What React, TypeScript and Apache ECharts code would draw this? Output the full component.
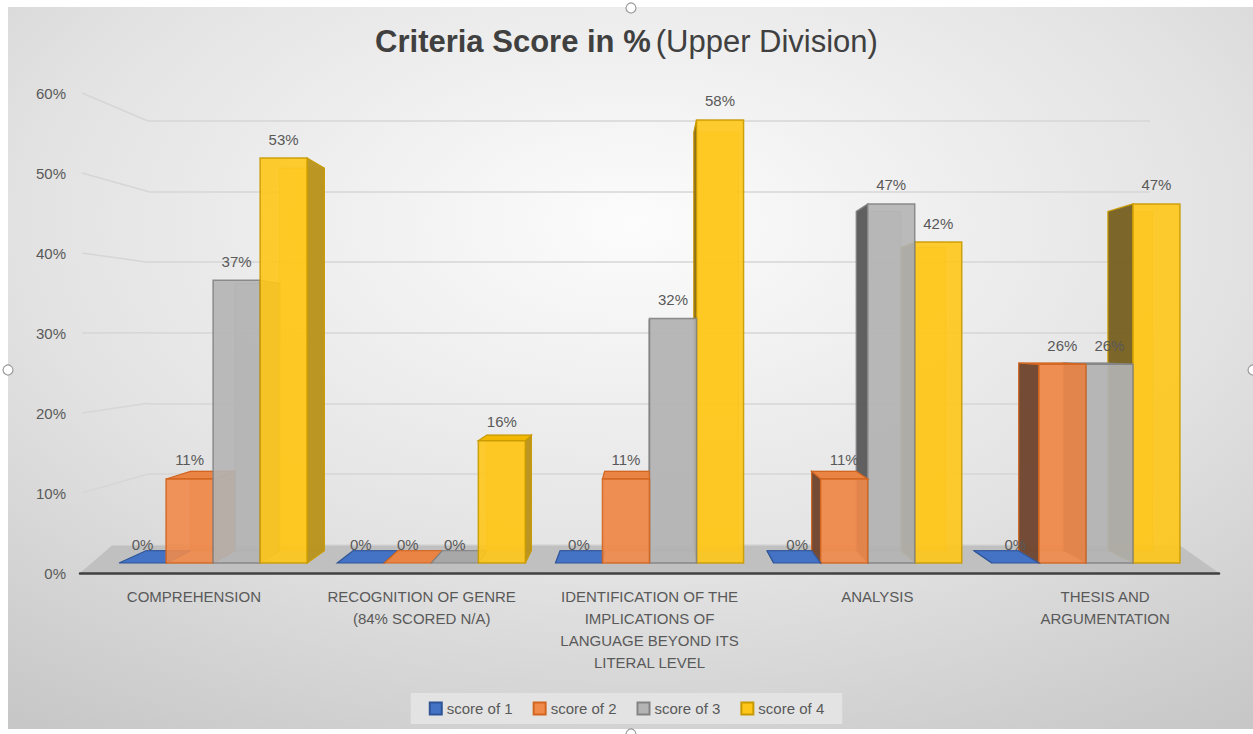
import React, { useEffect, useRef } from 'react';
import * as echarts from 'echarts';

const categories = [
  'COMPREHENSION',
  'RECOGNITION OF GENRE\n(84% SCORED N/A)',
  'IDENTIFICATION OF THE\nIMPLICATIONS OF\nLANGUAGE BEYOND ITS\nLITERAL LEVEL',
  'ANALYSIS',
  'THESIS AND\nARGUMENTATION',
];
const seriesNames = ['score of 1', 'score of 2', 'score of 3', 'score of 4'];
const score1 = [0, 0, 0, 0, 0];
const score2 = [11, 0, 11, 11, 26];
const score3 = [37, 0, 32, 47, 26];
const score4 = [53, 16, 58, 42, 47];
const seriesValues = [score1, score2, score3, score4];
const yMax = 60;
const yInterval = 10;

const FONT = '"Liberation Sans", Arial, sans-serif';
const TEXT = '#595959';

// face colours per series
const palette = [
  { front: '#4472C4', border: '#2F5597', right: '#3A62A8', left: '#2B4777', cap: '#4472C4' },
  { front: '#F08A4B', border: '#D2651F', right: '#E0783A', left: '#6E4630', cap: '#E98445' },
  { front: '#B4B4B4', border: '#838383', right: '#A4A4A4', left: '#5A5A5A', cap: '#A8A8A8' },
  { front: '#FFC61A', border: '#C99A00', right: '#B8921E', left: '#756024', cap: '#F2B800' },
];

// perspective vanishing point
const VX = 644;
const VY = 340;
const SX = 0.051;
const SY = 0.055;
const back = (x: number, y: number) => [x + SX * (VX - x), y + SY * (VY - y)];

function makeRender(si: number) {
  const c = palette[si];
  return (params: any, api: any) => {
    const cat = api.value(0);
    const val = api.value(1);
    const base = api.coord([cat, 0]);
    const top = api.coord([cat, val]);
    const band = api.size([1, 0])[0];
    const barW = band * 0.2155;
    const x0 = base[0] - 2 * barW + si * barW;
    const x1 = x0 + barW;
    const yb = base[1];
    const yt = top[1];
    const b0t = back(x0, yt);
    const b1t = back(x1, yt);
    const b1b = back(x1, yb);
    const b0b = back(x0, yb);
    const dist = Math.abs((x0 + x1) / 2 - VX);
    const z = Math.round(1000 - dist) * 10;
    const children: any[] = [];
    children.push({
      type: 'polygon',
      z2: z + 1,
      shape: { points: [b0t, b1t, b1b, b0b] },
      style: { fill: c.front, opacity: 0.5, stroke: c.border, lineWidth: 1 },
    });
    if (x1 <= VX) {
      children.push({
        type: 'polygon',
        z2: z + 2,
        shape: { points: [[x1, yt], b1t, b1b, [x1, yb]] },
        style: { fill: c.right, stroke: c.border, lineWidth: 1.2, opacity: 0.95 },
      });
    } else if (x0 >= VX) {
      children.push({
        type: 'polygon',
        z2: z + 2,
        shape: { points: [[x0, yt], b0t, b0b, [x0, yb]] },
        style: { fill: c.left, stroke: c.border, lineWidth: 1.2, opacity: 0.95 },
      });
    }
    if (yt > VY) {
      children.push({
        type: 'polygon',
        z2: z + 3,
        shape: { points: [[x0, yt], [x1, yt], b1t, b0t] },
        style: { fill: c.cap, stroke: c.border, lineWidth: 1.2 },
      });
    }
    if (yb - yt > 0.5) {
      children.push({
        type: 'rect',
        z2: z + 4,
        shape: { x: x0, y: yt, width: barW, height: yb - yt },
        style: { fill: c.front, opacity: 0.9, stroke: c.border, lineWidth: 1.5 },
      });
    }
    children.push({
      type: 'text',
      z2: 100000,
      style: {
        text: val + '%',
        x: (x0 + x1) / 2,
        y: yt - 19,
        align: 'center',
        verticalAlign: 'middle',
        fill: TEXT,
        font: '15px ' + FONT,
      },
    });
    return { type: 'group', children };
  };
}

export default function App() {
  const ref = useRef<HTMLDivElement>(null);
  useEffect(() => {
    if (!ref.current) return;
    const chart = echarts.init(ref.current, null, { renderer: 'svg' });
    const option: any = {
      animation: false,
      title: {
        text: '{b|Criteria Score in %} {n|(Upper Division)}',
        left: 'center',
        top: 21,
        textStyle: {
          rich: {
            b: { fontSize: 31, fontWeight: 'bold', color: '#404040', fontFamily: FONT },
            n: { fontSize: 31, fontWeight: 'normal', color: '#404040', fontFamily: FONT },
          },
        },
      },
      legend: {
        data: seriesNames,
        bottom: 10,
        left: 'center',
        itemWidth: 12,
        itemHeight: 12,
        itemGap: 20,
        icon: 'rect',
        padding: [8, 18],
        backgroundColor: '#e3e3e3',
        textStyle: { color: TEXT, fontSize: 15, fontFamily: FONT },
      },
      grid: [
        { left: 104, right: 58, top: 104.6, bottom: 171 },
        { left: 80, right: 34, top: 93, bottom: 161 },
        { left: 148, right: 103, top: 121, bottom: 189.5 },
      ],
      xAxis: [
        { gridIndex: 0, type: 'category', data: categories, show: false },
        {
          gridIndex: 1,
          type: 'category',
          data: categories,
          z: 5,
          axisLine: { show: true, lineStyle: { color: '#404040', width: 2.5 } },
          axisTick: { show: false },
          axisLabel: {
            interval: 0,
            margin: 12,
            color: TEXT,
            fontSize: 15,
            lineHeight: 22,
            fontFamily: FONT,
          },
        },
        { gridIndex: 2, type: 'value', show: false, min: 0, max: 1 },
      ],
      yAxis: [
        { gridIndex: 0, type: 'value', min: 0, max: yMax, show: false },
        {
          gridIndex: 1,
          type: 'value',
          min: 0,
          max: yMax,
          interval: yInterval,
          axisLine: { show: false },
          axisTick: { show: false },
          splitLine: { show: false },
          axisLabel: { formatter: '{value}%', color: TEXT, fontSize: 15, margin: 14, fontFamily: FONT },
        },
        {
          gridIndex: 2,
          type: 'value',
          min: 0,
          max: yMax,
          interval: yInterval,
          axisLine: { show: false },
          axisTick: { show: false },
          axisLabel: { show: false },
          splitLine: { show: true, lineStyle: { color: '#d6d6d6', width: 1.5 } },
        },
      ],
      series: seriesNames.map((name, si) => ({
        name,
        type: 'custom',
        xAxisIndex: 0,
        yAxisIndex: 0,
        itemStyle: { color: palette[si].front, borderColor: palette[si].border, borderWidth: 1.5 },
        renderItem: makeRender(si),
        data: seriesValues[si].map((v, i) => [i, v]),
      })),
    };
    chart.setOption(option);

    const graphics: any[] = [];
    graphics.push({
      type: 'rect',
      z: -10,
      shape: { x: 8, y: 7, width: 1250, height: 722 },
      style: {
        fill: new echarts.graphic.RadialGradient(0.5, 0.3, 0.95, [
          { offset: 0, color: '#fcfcfc' },
          { offset: 0.5, color: '#e3e3e3' },
          { offset: 1, color: '#bfbfbf' },
        ]),
      },
    });
    for (let v = yInterval; v <= yMax; v += yInterval) {
      const yf = chart.convertToPixel({ yAxisIndex: 1 }, v) as number;
      const yb = chart.convertToPixel({ yAxisIndex: 2 }, v) as number;
      graphics.push({
        type: 'line',
        z: 0,
        shape: { x1: 82, y1: yf, x2: 148, y2: yb },
        style: { stroke: '#d6d6d6', lineWidth: 1.5 },
      });
    }
    const yf0 = chart.convertToPixel({ yAxisIndex: 1 }, 0) as number;
    const yb0 = chart.convertToPixel({ yAxisIndex: 2 }, 0) as number;
    graphics.push({
      type: 'polygon',
      z: 1,
      shape: { points: [[80, yf0], [1219, yf0], [1180, yb0 + 1], [112, yb0 + 1]] },
      style: { fill: '#c0c0c0' },
    });
    [[631, 8], [8, 370], [1253, 370], [631, 734]].forEach(([cx, cy]) => {
      graphics.push({
        type: 'circle',
        z: 10,
        shape: { cx, cy, r: 5 },
        style: { fill: '#ffffff', stroke: '#9a9a9a', lineWidth: 1.2 },
      });
    });
    chart.setOption({ graphic: graphics });
    return () => chart.dispose();
  }, []);
  return (
    <div
      ref={ref}
      style={{ position: 'absolute', left: 0, top: 0, width: 1253, height: 734 }}
    />
  );
}
